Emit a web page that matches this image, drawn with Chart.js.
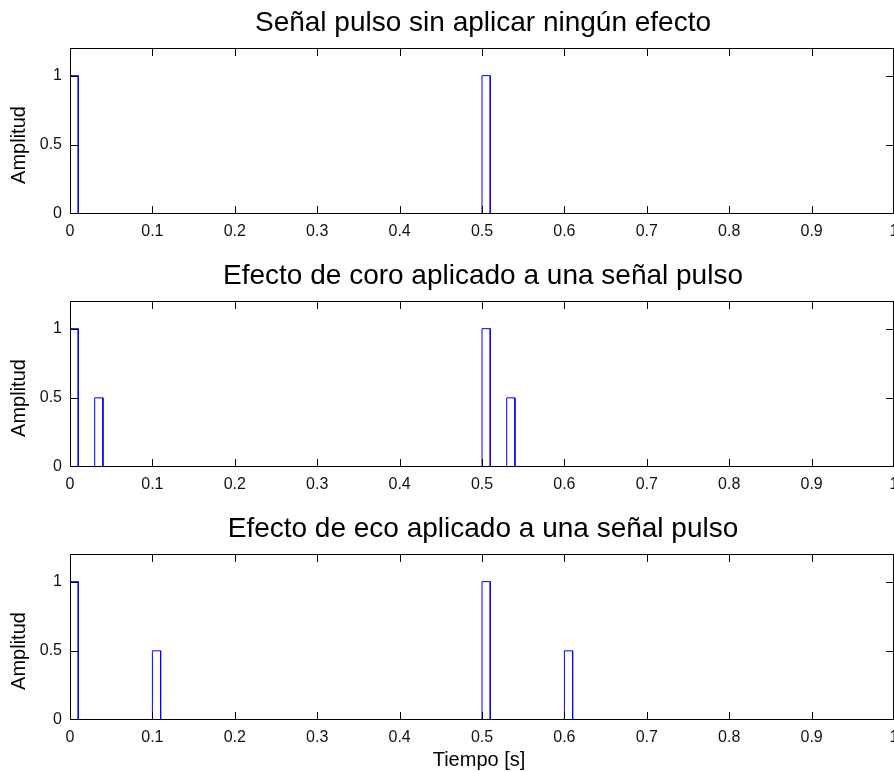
<!DOCTYPE html>
<html>
<head>
<meta charset="utf-8">
<script src="https://cdn.jsdelivr.net/npm/chart.js@4"></script>
<style>
  body { margin: 0; background: #fff; }
  .plot { position: absolute; left: 0; width: 894px; }
</style>
</head>
<body>
<div class="plot" style="top:0px;height:253px"><canvas id="c1"></canvas></div>
<div class="plot" style="top:253px;height:253px"><canvas id="c2"></canvas></div>
<div class="plot" style="top:506px;height:266px"><canvas id="c3"></canvas></div>
<script>
// data
const xTicks = [0, 0.1, 0.2, 0.3, 0.4, 0.5, 0.6, 0.7, 0.8, 0.9, 1];
const yTicks = [0, 0.5, 1];
const pulseWidth = 0.01;

const titles = [
  "Señal pulso sin aplicar ningún efecto",
  "Efecto de coro aplicado a una señal pulso",
  "Efecto de eco aplicado a una señal pulso"
];

const pulsoStarts = [0, 0.5];
const pulsoAmps = [1, 1];

const coroStarts = [0, 0.03, 0.5, 0.53];
const coroAmps = [1, 0.5, 1, 0.5];

const ecoStarts = [0, 0.1, 0.5, 0.6];
const ecoAmps = [1, 0.5, 1, 0.5];

const FONT = '"Liberation Sans", Arial, sans-serif';

// turn the pulse list into a rectangular trace
function pulseTrain(starts, amps) {
  const pts = [{ x: 0, y: 0 }];
  starts.forEach((s, i) => {
    pts.push({ x: s, y: 0 }, { x: s, y: amps[i] },
             { x: s + pulseWidth, y: amps[i] }, { x: s + pulseWidth, y: 0 });
  });
  pts.push({ x: 1, y: 0 });
  return pts;
}

// box, inward ticks and texts, matlab style
const matlabAxes = {
  id: 'matlabAxes',
  afterDatasetsDraw(chart, args, opts) {
    const { ctx, chartArea: a, scales: { x, y } } = chart;
    ctx.save();
    ctx.strokeStyle = '#000';
    ctx.lineWidth = 1;
    ctx.strokeRect(a.left + 0.5, a.top + 0.5, a.right - a.left - 1, a.bottom - a.top - 1);
    ctx.beginPath();
    xTicks.forEach(v => {
      if (v <= 0 || v >= 1) return;
      const px = Math.round(x.getPixelForValue(v)) + 0.5;
      ctx.moveTo(px, a.bottom); ctx.lineTo(px, a.bottom - 8);
      ctx.moveTo(px, a.top); ctx.lineTo(px, a.top + 8);
    });
    yTicks.forEach(v => {
      if (v <= 0) return;
      const py = Math.round(y.getPixelForValue(v)) + 0.5;
      ctx.moveTo(a.left, py); ctx.lineTo(a.left + 8, py);
      ctx.moveTo(a.right, py); ctx.lineTo(a.right - 8, py);
    });
    ctx.stroke();
    ctx.restore();
  },
  afterDraw(chart, args, opts) {
    const { ctx, chartArea: a } = chart;
    ctx.save();
    ctx.fillStyle = '#000';
    ctx.font = '28px ' + FONT;
    ctx.textAlign = 'center';
    ctx.textBaseline = 'alphabetic';
    ctx.fillText(opts.title, (a.left + a.right) / 2 + 1, a.top - 17);

    ctx.font = '20px ' + FONT;
    ctx.save();
    ctx.translate(19, a.top + 97);
    ctx.rotate(-Math.PI / 2);
    ctx.textBaseline = 'middle';
    ctx.fillText('Amplitud', 0, 0);
    ctx.restore();

    if (opts.xlabel) {
      ctx.fillText(opts.xlabel, 479, a.bottom + 46);
    }
    ctx.restore();
  }
};

function makeChart(id, starts, amps, title, xlabel, bottomSpace) {
  new Chart(document.getElementById(id), {
    type: 'scatter',
    data: {
      datasets: [{
        data: pulseTrain(starts, amps),
        showLine: true,
        borderColor: '#0000ff',
        borderWidth: 1,
        pointRadius: 0,
        fill: false,
        tension: 0
      }]
    },
    options: {
      responsive: true,
      maintainAspectRatio: false,
      animation: false,
      layout: { padding: { top: 48, left: 0, right: 0, bottom: 0 } },
      plugins: {
        legend: { display: false },
        tooltip: { enabled: false },
        matlabAxes: { title: title, xlabel: xlabel }
      },
      scales: {
        x: {
          type: 'linear',
          min: 0,
          max: 1,
          grid: { display: false, drawTicks: false },
          border: { display: false },
          afterBuildTicks: s => { s.ticks = xTicks.map(v => ({ value: v })); },
          afterFit: s => { s.height = bottomSpace; s.paddingLeft = 0; s.paddingRight = 0; },
          ticks: {
            autoSkip: false,
            maxRotation: 0,
            padding: 8,
            color: '#111',
            font: { family: FONT, size: 16 },
            callback: v => String(v)
          }
        },
        y: {
          min: 0,
          max: 1.2,
          grid: { display: false, drawTicks: false },
          border: { display: false },
          afterBuildTicks: s => { s.ticks = yTicks.map(v => ({ value: v })); },
          afterFit: s => { s.width = 70; s.paddingTop = 0; s.paddingBottom = 0; },
          ticks: {
            padding: 8,
            color: '#111',
            font: { family: FONT, size: 16 },
            callback: v => String(v)
          }
        }
      }
    },
    plugins: [matlabAxes]
  });
}

makeChart('c1', pulsoStarts, pulsoAmps, titles[0], null, 253 - 48 - 166);
makeChart('c2', coroStarts, coroAmps, titles[1], null, 253 - 48 - 166);
makeChart('c3', ecoStarts, ecoAmps, titles[2], 'Tiempo [s]', 266 - 48 - 166);
</script>
</body>
</html>
